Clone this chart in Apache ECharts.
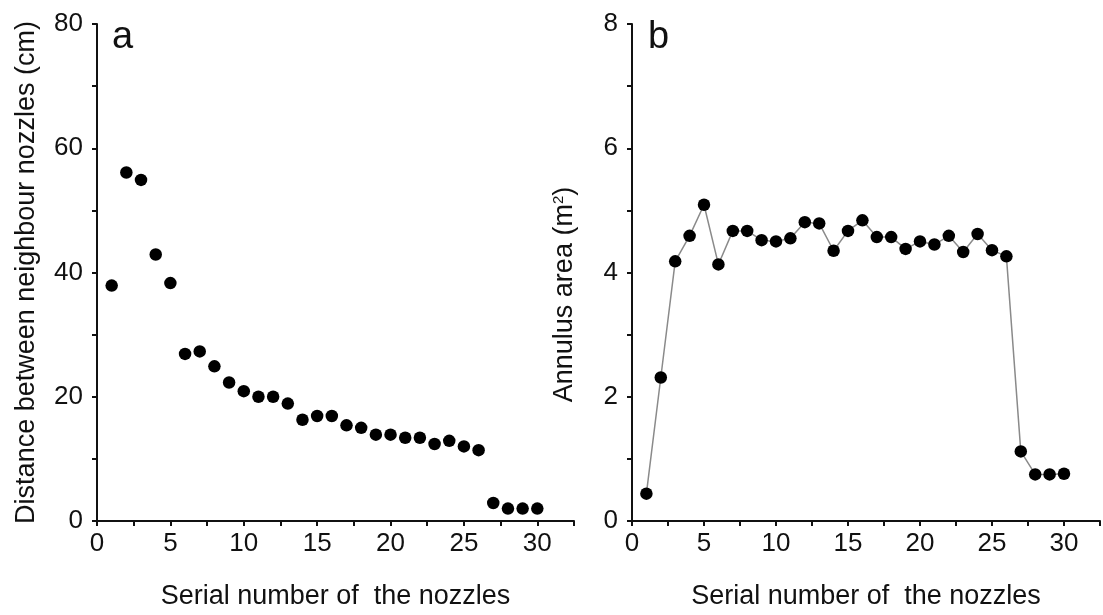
<!DOCTYPE html>
<html>
<head>
<meta charset="utf-8">
<script src="https://cdn.jsdelivr.net/npm/echarts@6/dist/echarts.min.js"></script>
<style>
  html, body { margin: 0; padding: 0; background: #fff; }
  #chart { width: 1103px; height: 615px; }
</style>
</head>
<body>
<div id="chart"></div>
<script>
  // 喷嘴序号
  const nozzles = [1, 2, 3, 4, 5, 6, 7, 8, 9, 10, 11, 12, 13, 14, 15,
    16, 17, 18, 19, 20, 21, 22, 23, 24, 25, 26, 27, 28, 29, 30];

  // a: 相邻喷嘴间距 (cm)
  const distance = [37.9, 56.1, 54.9, 42.9, 38.3, 26.9, 27.3, 24.9, 22.3, 20.9,
    20.0, 20.0, 18.9, 16.3, 16.9, 16.9, 15.4, 15.0, 13.9, 13.9,
    13.4, 13.4, 12.4, 12.9, 12.0, 11.4, 2.9, 2.0, 2.0, 2.0];

  // b: 环形面积 (m2)
  const annulus = [0.44, 2.31, 4.18, 4.59, 5.09, 4.13, 4.67, 4.67, 4.52, 4.50,
    4.55, 4.81, 4.79, 4.35, 4.67, 4.84, 4.57, 4.57, 4.38, 4.50,
    4.45, 4.59, 4.33, 4.62, 4.36, 4.26, 1.12, 0.75, 0.75, 0.76];

  // 刻度标签
  const xLabels = [0, 5, 10, 15, 20, 25, 30];
  const yLabelsA = [0, 20, 40, 60, 80];
  const yLabelsB = [0, 2, 4, 6, 8];

  const font = "'Liberation Sans', Arial, sans-serif";
  const ink = "#111";

  const chart = echarts.init(document.getElementById("chart"));

  function xAxisOf(gridIndex) {
    return {
      gridIndex: gridIndex,
      type: "value",
      min: 0,
      max: 32.5,
      interval: 2.5,
      name: "Serial number of  the nozzles",
      nameLocation: "middle",
      nameGap: 62,
      nameTextStyle: { fontFamily: font, fontSize: 27, color: ink },
      axisLine: { onZero: false, lineStyle: { color: ink, width: 2 } },
      axisTick: { length: 5, lineStyle: { color: ink, width: 2 } },
      axisLabel: {
        margin: 10,
        fontFamily: font, fontSize: 26, color: ink,
        formatter: (v) => (xLabels.indexOf(v) >= 0 ? String(v) : "")
      },
      splitLine: { show: false }
    };
  }

  function yAxisOf(gridIndex, max, step, labels, name, gap, pad) {
    return {
      gridIndex: gridIndex,
      type: "value",
      min: 0,
      max: max,
      interval: step,
      name: name,
      nameLocation: "middle",
      nameGap: gap,
      nameTextStyle: {
        fontFamily: font, fontSize: 27, color: ink,
        padding: pad,
        rich: { sup: { fontFamily: font, fontSize: 15, color: ink, verticalAlign: "top", padding: [0, 0, 12, 0] } }
      },
      axisLine: { show: true, onZero: false, lineStyle: { color: ink, width: 2 } },
      axisTick: { show: true, length: 5, lineStyle: { color: ink, width: 2 } },
      axisLabel: {
        margin: 14,
        fontFamily: font, fontSize: 26, color: ink,
        formatter: (v) => (labels.indexOf(v) >= 0 ? String(v) : "")
      },
      splitLine: { show: false }
    };
  }

  const option = {
    backgroundColor: "#fff",
    animation: false,
    title: [
      { text: "a", left: 107, top: 14, textStyle: { fontFamily: font, fontSize: 38, fontWeight: "normal", color: ink } },
      { text: "b", left: 643, top: 14, textStyle: { fontFamily: font, fontSize: 38, fontWeight: "normal", color: ink } }
    ],
    grid: [
      { left: 97, top: 24, width: 477, height: 502 },
      { left: 632, top: 24, width: 475, height: 502 }
    ],
    xAxis: [xAxisOf(0), xAxisOf(1)],
    yAxis: [
      yAxisOf(0, 80, 10, yLabelsA, "Distance between neighbour nozzles (cm)", 57, [0, 0, 0, 0]),
      yAxisOf(1, 8, 1, yLabelsB, "Annulus area (m{sup|2})", 54, [0, 44, 0, 0])
    ],
    series: [
      {
        type: "scatter",
        xAxisIndex: 0,
        yAxisIndex: 0,
        symbol: "circle",
        symbolSize: 12.5,
        itemStyle: { color: "#000", opacity: 1 },
        data: nozzles.map((n, i) => [n, distance[i]])
      },
      {
        type: "line",
        xAxisIndex: 1,
        yAxisIndex: 1,
        symbol: "circle",
        symbolSize: 12.5,
        showAllSymbol: true,
        lineStyle: { color: "#8a8a8a", width: 1.5 },
        itemStyle: { color: "#000", borderWidth: 0 },
        data: nozzles.map((n, i) => [n, annulus[i]])
      }
    ]
  };

  chart.setOption(option);

  window.addEventListener("resize", () => {
    chart.resize();
  });
</script>
</body>
</html>
